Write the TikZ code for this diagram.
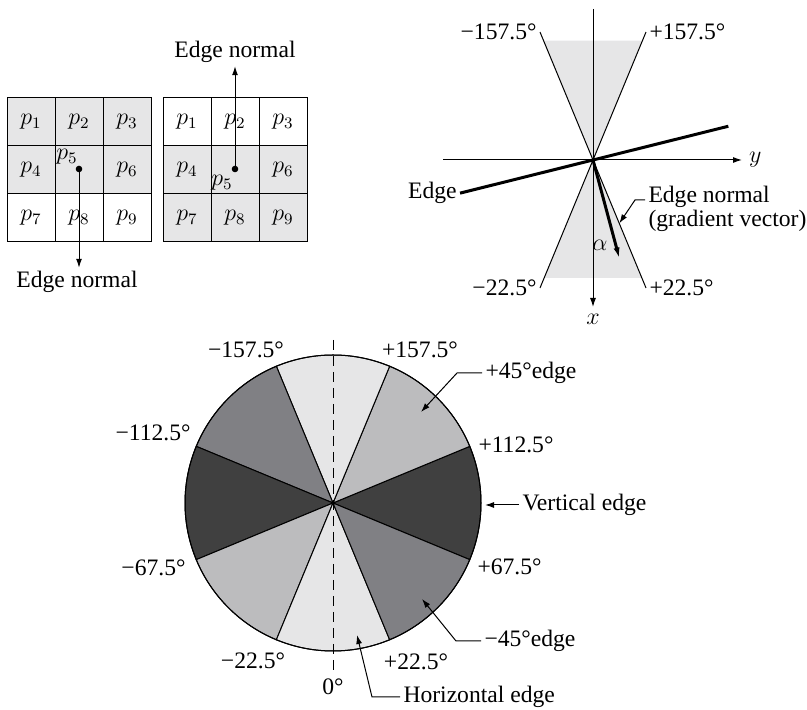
\documentclass[tikz,border=0pt]{standalone}
\usepackage{fontspec}
\setmainfont{Liberation Serif}
\usetikzlibrary{arrows.meta}
\usetikzlibrary{positioning}

\definecolor{shadeA}{RGB}{230,230,231}
\definecolor{shadeB}{RGB}{188,188,190}
\definecolor{shadeC}{RGB}{128,128,132}
\definecolor{shadeD}{RGB}{64,64,64}

\begin{document}
\begin{tikzpicture}[x=0.5pt, y=0.5pt, line width=0.5pt,
    font=\fontsize{11.8}{10}\selectfont,
    >={Latex[length=4.5pt,width=3pt]},
    cell/.style={draw, minimum size=24pt, inner sep=0pt},
    lbl/.style={inner sep=1.5pt},
    thickline/.style={line width=1.5pt}]

\useasboundingbox (0,0) rectangle (807,710);

% --- 3x3 neighbourhoods ---
\foreach \r/\lf/\rf in {0/shadeA/white, 1/shadeA/shadeA, 2/white/shadeA} {
  \foreach \c in {0,1,2} {
    \pgfmathtruncatemacro{\n}{3*\r+\c+1}
    \node[cell, fill=\lf] (L\n) at (31+48*\c, 588-48*\r) {\ifnum\n=5 \else$p_{\n}$\fi};
    \node[cell, fill=\rf] (R\n) at (187+48*\c, 588-48*\r) {\ifnum\n=5 \else$p_{\n}$\fi};
  }
}
\node[lbl] (Lp5) at (67,553) {$p_5$};
\node[lbl] (Rp5) at (222,527) {$p_5$};

% edge normals of the grids
\coordinate (Ldot) at (79,541);
\coordinate (Rdot) at (235,541);
\fill (Ldot) circle[radius=3.3];
\fill (Rdot) circle[radius=3.3];
\node[lbl] (Lnorm) at (77,428) {Edge normal};
\node[lbl] (Rnorm) at (235,658) {Edge normal};
\draw[->] (Ldot) -- (Lnorm.north -| Ldot);
\draw[->] (Rdot) -- (Rnorm.south -| Rdot);

% --- gradient direction sketch ---
\coordinate (O) at (593,550);

\fill[shadeA] (O) -- +(112.5:129.1) -- +(67.5:129.1) -- cycle;
\fill[shadeA] (O) -- +(-112.5:127.7) -- +(-67.5:127.7) -- cycle;

\draw (O) -- +(112.5:138.5) node[lbl, anchor=east] (tm157) {−157.5°};
\draw (O) -- +(67.5:138.5) node[lbl, anchor=west] (tp157) {+157.5°};
\draw (O) -- +(-112.5:138.5) node[lbl, anchor=east] (tm22) {−22.5°};
\draw (O) -- +(-67.5:138.5) node[lbl, anchor=west] (tp22) {+22.5°};

% axes
\draw[->] (593,701) -- (593,403) node[below] (xlab) {$x$};
\draw[->] (443,550) -- (742,550) node[right] (ylab) {$y$};

% edge and its normal
\draw[thickline] (O) +(194:137) coordinate (edgeL) -- +(14:139.5);
\node[lbl, anchor=east] (edgelab) at (edgeL) {Edge};
\draw[thickline, -{Latex[length=6pt,width=3pt]}] (O) -- +(-75:103);
\node (alpha) at (600,465) {$\alpha$};

\node[lbl, anchor=west, align=left] (gradlab) at (645,501) {Edge normal\\(gradient vector)};
\coordinate (gradtip) at (619.3,486.7);
\draw[->] ([yshift=4.5pt]gradlab.west) -- ++(-10,0) -- (gradtip);

% --- angle ranges ---
\coordinate (C) at (333,207);

\foreach \a/\col in {-22.5/shadeD, 22.5/shadeB, 67.5/shadeA, 112.5/shadeC,
                     157.5/shadeD, 202.5/shadeB, 247.5/shadeA, 292.5/shadeC} {
  \filldraw[fill=\col] (C) -- +(\a:148) arc[start angle=\a, end angle=\a+45, radius=148] -- cycle;
}
\draw[dashed, dash pattern=on 5pt off 3pt] (333,370) -- (333,35);
\draw (C) circle[radius=148];

\node[lbl] (cm157) at (246,360) {−157.5°};
\node[lbl] (cp157) at (420,360) {+157.5°};
\node[lbl, anchor=east] (cm112) at (194,277) {−112.5°};
\node[lbl, anchor=west] (cp112) at (475,265) {+112.5°};
\node[lbl, anchor=east] (cm67) at (189,142) {−67.5°};
\node[lbl, anchor=west] (cp67) at (474,143) {+67.5°};
\node[lbl] (cm22) at (253,49) {−22.5°};
\node[lbl] (cp22) at (416,48) {+22.5°};
\node[lbl] (czero) at (333,23) {0°};

% callouts
\node[lbl, anchor=west] (e45) at (482,337) {+45°edge};
\node[lbl, anchor=west] (evert) at (519,205) {Vertical edge};
\node[lbl, anchor=west] (em45) at (481,69) {−45°edge};
\node[lbl, anchor=west] (ehor) at (400,13) {Horizontal edge};

\coordinate (tip45) at (421,298);
\coordinate (tipvert) at (485,205);
\coordinate (tipm45) at (422,111);
\coordinate (tiphor) at (357,75);

\draw[->] (e45.west) -- ++(-25,0) -- (tip45);
\draw[->] (evert.west) -- (tipvert);
\draw[->] (em45.west) -- ++(-25,0) -- (tipm45);
\draw[->] (ehor.west) -- ++(-28,0) -- (tiphor);

\end{tikzpicture}
\end{document}
